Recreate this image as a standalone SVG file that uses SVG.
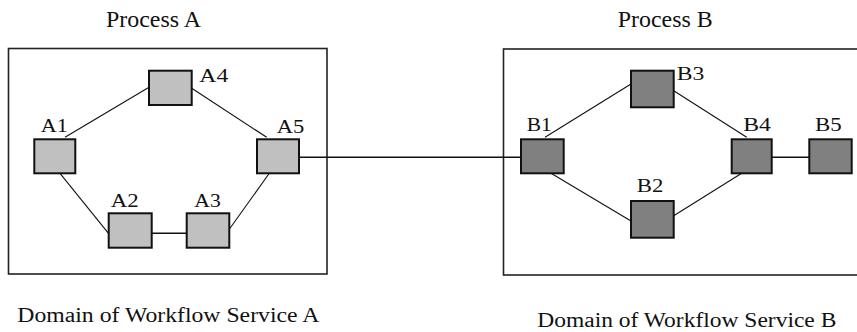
<svg xmlns="http://www.w3.org/2000/svg" width="857" height="332" viewBox="0 0 857 332" font-family="'Liberation Serif', 'DejaVu Serif', serif">
  <style>
    text { font-family: 'Liberation Serif', 'DejaVu Serif', serif; fill: #111; }
    .title { font-size: 23px; }
    .domain { font-size: 20px; }
    .lbl { font-size: 19px; }
    .frame { fill: none; stroke: #222; stroke-width: 1.6; }
    .na { fill: #c0c0c0; stroke: #111; stroke-width: 2; }
    .nb { fill: #808080; stroke: #111; stroke-width: 2; }
    .link { stroke: #111; stroke-width: 1.1; fill: none; }
    .bold { stroke: #111; stroke-width: 1.6; fill: none; }
  </style>

  <!-- service domains -->
  <g id="domain-a">
    <rect class="frame" x="8.5" y="48.5" width="318.5" height="225.5"/>
    <text class="title" x="106" y="26.7" textLength="95" lengthAdjust="spacingAndGlyphs">Process A</text>
    <text class="domain" x="17.3" y="322" textLength="302" lengthAdjust="spacingAndGlyphs">Domain of Workflow Service A</text>
  </g>
  <g id="domain-b">
    <rect class="frame" x="503.5" y="49" width="380" height="226"/>
    <text class="title" x="617.7" y="26.7" textLength="95" lengthAdjust="spacingAndGlyphs">Process B</text>
    <text class="domain" x="537.3" y="326.5" textLength="299" lengthAdjust="spacingAndGlyphs">Domain of Workflow Service B</text>
  </g>

  <!-- connectors -->
  <g id="connectors">
    <line class="link" x1="65" y1="137.3" x2="149" y2="87.3"/>
    <line class="link" x1="191.7" y1="88.3" x2="266.7" y2="137.3"/>
    <line class="link" x1="60" y1="173.3" x2="108.5" y2="233.3"/>
    <line class="link" x1="229.3" y1="229.3" x2="269.3" y2="173.3"/>
    <line class="bold" x1="151.7" y1="233.3" x2="186.7" y2="233.3"/>
    <line class="bold" x1="299" y1="157.3" x2="521" y2="157.3"/>
    <line class="link" x1="545" y1="137.3" x2="631" y2="84"/>
    <line class="link" x1="673.7" y1="90.7" x2="746.7" y2="137.3"/>
    <line class="link" x1="551" y1="173.3" x2="631" y2="221"/>
    <line class="link" x1="673.7" y1="215.7" x2="741.7" y2="173.3"/>
    <line class="bold" x1="771.7" y1="157.3" x2="809.3" y2="157.3"/>
  </g>

  <!-- process A activities -->
  <g id="A1"><rect class="na" x="34.3" y="139.3" width="41" height="34"/><text class="lbl" x="40.7" y="131.7" textLength="27" lengthAdjust="spacingAndGlyphs">A1</text></g>
  <g id="A2"><rect class="na" x="108.7" y="213.3" width="43" height="34.4"/><text class="lbl" x="110.7" y="206.7" textLength="28" lengthAdjust="spacingAndGlyphs">A2</text></g>
  <g id="A3"><rect class="na" x="186.7" y="213.3" width="42.6" height="34.4"/><text class="lbl" x="194.3" y="206.7" textLength="26.5" lengthAdjust="spacingAndGlyphs">A3</text></g>
  <g id="A4"><rect class="na" x="149" y="70.7" width="42.7" height="34.3"/><text class="lbl" x="199.3" y="81.7" textLength="29" lengthAdjust="spacingAndGlyphs">A4</text></g>
  <g id="A5"><rect class="na" x="257" y="139.3" width="42" height="34"/><text class="lbl" x="276.7" y="133.3" textLength="27.5" lengthAdjust="spacingAndGlyphs">A5</text></g>

  <!-- process B activities -->
  <g id="B1"><rect class="nb" x="521" y="139.3" width="42.7" height="34"/><text class="lbl" x="526.7" y="130.7" textLength="25" lengthAdjust="spacingAndGlyphs">B1</text></g>
  <g id="B2"><rect class="nb" x="631" y="201" width="42.7" height="36.7"/><text class="lbl" x="636.7" y="192.3" textLength="26.6" lengthAdjust="spacingAndGlyphs">B2</text></g>
  <g id="B3"><rect class="nb" x="631" y="70.7" width="42.7" height="36.6"/><text class="lbl" x="676.7" y="80" textLength="27.6" lengthAdjust="spacingAndGlyphs">B3</text></g>
  <g id="B4"><rect class="nb" x="731.7" y="139.3" width="40" height="34"/><text class="lbl" x="743.3" y="130.7" textLength="27.7" lengthAdjust="spacingAndGlyphs">B4</text></g>
  <g id="B5"><rect class="nb" x="809.3" y="139.3" width="42.4" height="34"/><text class="lbl" x="815" y="130.7" textLength="26.7" lengthAdjust="spacingAndGlyphs">B5</text></g>
</svg>
